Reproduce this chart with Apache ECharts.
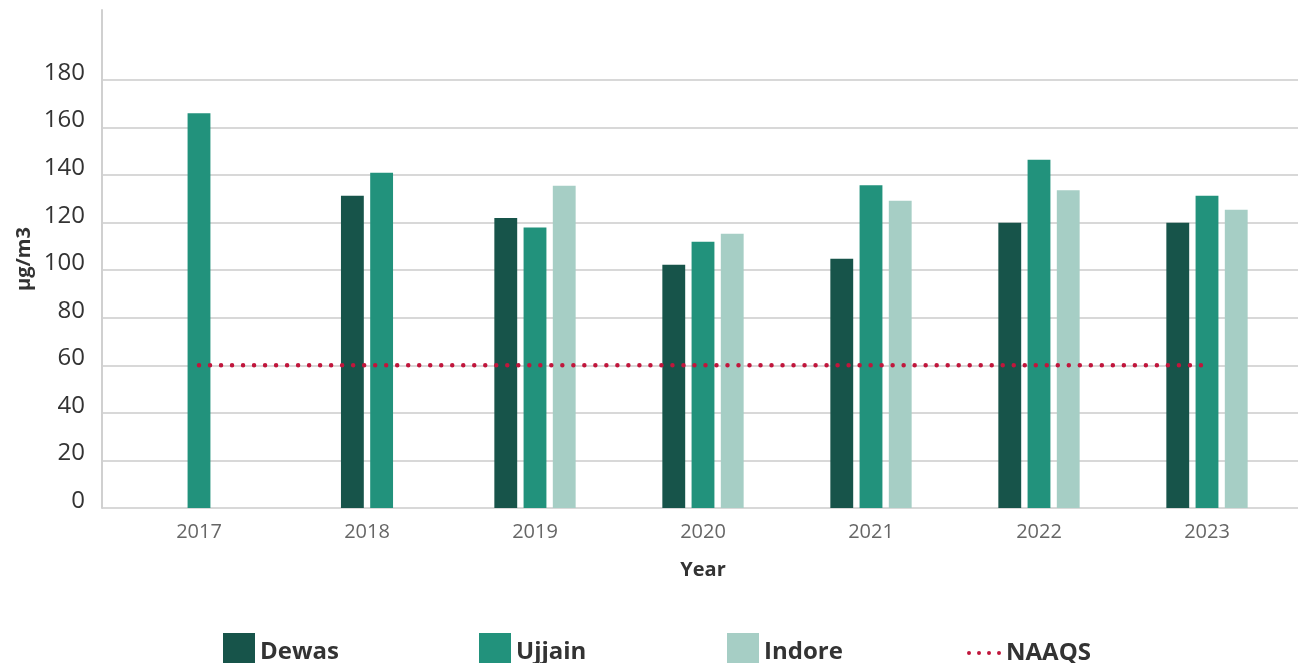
<!DOCTYPE html>
<html>
<head>
<meta charset="utf-8">
<script src="https://cdn.jsdelivr.net/npm/echarts@6/dist/echarts.min.js"></script>
<style>
html,body{margin:0;padding:0;background:#fff;}
#chart{width:1298px;height:663px;}
</style>
</head>
<body>
<div id="chart"></div>
<script>
var years = ['2017', '2018', '2019', '2020', '2021', '2022', '2023'];
var dewas = [null, 131.3, 122, 102.3, 104.8, 120, 120];
var ujjain = [166, 141, 118, 112, 135.7, 146.5, 131.3];
var indore = [null, null, 135.5, 115.3, 129.2, 133.6, 125.4];
var naaqs = [60, 60, 60, 60, 60, 60, 60];
var cityNames = ['Dewas', 'Ujjain', 'Indore'];
var cityColors = ['#17544a', '#22927c', '#a6cec5'];
var yTicks = [0, 20, 40, 60, 80, 100, 120, 140, 160, 180];

var cityValues = [dewas, ujjain, indore];
var FONT = "'Open Sans', 'Noto Sans', sans-serif";
var RED = '#c0163c';
var DOTS_ICON = 'path://M0,2a2,2 0 1,0 4,0a2,2 0 1,0 -4,0z' +
  'M10,2a2,2 0 1,0 4,0a2,2 0 1,0 -4,0z' +
  'M20,2a2,2 0 1,0 4,0a2,2 0 1,0 -4,0z' +
  'M30,2a2,2 0 1,0 4,0a2,2 0 1,0 -4,0z';

function toData(arr) {
  var out = [];
  for (var i = 0; i < arr.length; i++) {
    if (arr[i] != null) out.push([i, arr[i]]);
  }
  return out;
}

function makeRender(cityIdx) {
  return function (params, api) {
    var cat = api.value(0), val = api.value(1);
    var present = [];
    for (var j = 0; j < cityValues.length; j++) {
      if (cityValues[j][cat] != null) present.push(j);
    }
    var n = present.length, k = present.indexOf(cityIdx);
    var band = api.size([1, 0])[0];
    var barW = band * 0.136, pitch = band * 0.174;
    var base = api.coord([cat, 0]);
    var top = api.coord([cat, val]);
    var x = base[0] + (k - (n - 1) / 2) * pitch - barW / 2;
    return {
      type: 'rect',
      shape: { x: x, y: top[1], width: barW, height: base[1] - top[1] },
      style: { fill: api.visual('color') }
    };
  };
}

var series = [];
for (var c = 0; c < cityNames.length; c++) {
  series.push({
    name: cityNames[c],
    type: 'custom',
    xAxisIndex: 2,
    yAxisIndex: 2,
    renderItem: makeRender(c),
    encode: { x: 0, y: 1 },
    itemStyle: { color: cityColors[c] },
    data: toData(cityValues[c]),
    z: 2
  });
}
series.push({
  name: 'NAAQS',
  type: 'line',
  xAxisIndex: 2,
  yAxisIndex: 2,
  data: naaqs,
  symbol: 'none',
  silent: true,
  z: 10,
  itemStyle: { color: RED },
  lineStyle: { color: RED, width: 4.5, type: [0.01, 11], cap: 'round' }
});

var legendText = { fontFamily: FONT, fontWeight: 'bold', fontSize: 24, color: '#333' };
function legendFor(name, left) {
  return {
    data: [{ name: name }],
    left: left,
    top: 628,
    itemWidth: 32,
    itemHeight: 38,
    itemGap: 0,
    icon: 'rect',
    textStyle: legendText
  };
}

var chart = echarts.init(document.getElementById('chart'), null, { renderer: 'canvas' });
chart.setOption({
  animation: false,
  backgroundColor: '#ffffff',
  grid: [
    { left: 102, right: 0, top: 80, bottom: 155 },
    { left: 102, right: 0, top: 10, bottom: 155 },
    { left: 115, right: 7, top: 80, bottom: 155 }
  ],
  xAxis: [
    { type: 'category', gridIndex: 0, data: years, show: false },
    { type: 'category', gridIndex: 1, data: years, show: false },
    {
      type: 'category', gridIndex: 2, data: years,
      axisLine: { show: false }, axisTick: { show: false },
      axisLabel: { fontFamily: FONT, fontSize: 20, color: '#666', margin: 14 },
      name: 'Year', nameLocation: 'middle', nameGap: 52,
      nameTextStyle: { fontFamily: FONT, fontSize: 20, fontWeight: 'bold', color: '#333' }
    }
  ],
  yAxis: [
    {
      type: 'value', gridIndex: 0, min: 0, max: 180, interval: 20,
      axisLine: { show: false }, axisTick: { show: false },
      axisLabel: {
        fontFamily: FONT, fontSize: 24, color: '#333', margin: 17,
        verticalAlign: 'bottom', lineHeight: 14,
        formatter: function (v) { return yTicks.indexOf(v) >= 0 ? String(v) : ''; }
      },
      splitLine: { lineStyle: { color: '#d8d8d8', width: 2 } }
    },
    {
      type: 'value', gridIndex: 1, min: 0, max: 210,
      axisLine: { show: true, lineStyle: { color: '#d0d0d0', width: 2 } },
      axisTick: { show: false }, axisLabel: { show: false }, splitLine: { show: false },
      name: 'μg/m3', nameLocation: 'middle', nameGap: 68,
      nameTextStyle: { fontFamily: FONT, fontSize: 20, fontWeight: 'bold', color: '#333' }
    },
    {
      type: 'value', gridIndex: 2, min: 0, max: 180, show: false
    }
  ],
  legend: [
    legendFor('Dewas', 218),
    legendFor('Ujjain', 474),
    legendFor('Indore', 722),
    {
      data: [{ name: 'NAAQS', icon: DOTS_ICON }],
      left: 962,
      top: 636,
      itemWidth: 34,
      itemHeight: 4,
      itemGap: 0,
      textStyle: legendText
    }
  ],
  series: series
});
</script>
</body>
</html>
